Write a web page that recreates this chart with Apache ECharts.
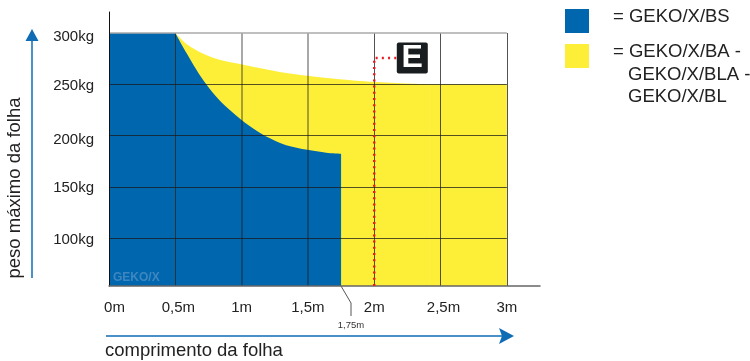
<!DOCTYPE html>
<html>
<head>
<meta charset="utf-8">
<style>html,body{margin:0;padding:0;background:#fff}#chart{width:750px;height:361px}</style>
<script src="https://cdn.jsdelivr.net/npm/echarts@6/dist/echarts.min.js"></script>
</head>
<body>
<div id="chart"></div>
<script>
const yMin = 53.2;
const yMax = 320.5;
const xTicks = [0, 0.5, 1, 1.5, 2, 2.5, 3];
const xTickLabels = ['{a|0m}', '{b|0,5m}', '1m', '1,5m', '2m', '{b|2,5m}', '3m'];
const yTicks = [100, 150, 200, 250, 300];
const yTickLabels = ['100kg', '150kg', '{d|200kg}', '250kg', '{d|300kg}'];
// outlines of the two regions [length in m, weight in kg]
const blueBlock = [[0, 300], [0.5, 300]];
const blueCurve = [[0.5, 300], [0.582, 281], [0.658, 264.5], [0.733, 250], [0.833, 234.5], [0.997, 215.5], [1.11, 205], [1.21, 197.5], [1.336, 190.5], [1.495, 186], [1.638, 183.2], [1.75, 182.2]];
const yellowCurve = [[0.5, 300], [0.582, 289.6], [0.707, 280], [0.833, 274], [0.997, 269.5], [1.135, 265.8], [1.286, 262], [1.495, 258.3], [1.686, 255.6], [1.89, 253.2], [2.2, 251], [2.42, 250]];
const yellowBlock = [[2.42, 250], [3, 250]];
const exampleLine = [[2, yMin], [2, 275.6], [2.17, 275.6]];
const exampleBadge = [[2.287, 275.6]];
const legendNames = ['= GEKO/X/BS', '= GEKO/X/BA -'];
const legendExtra = ['GEKO/X/BLA -', 'GEKO/X/BL'];

const font = '"Liberation Sans", Arial, sans-serif';
const blue = '#0066ae';
const yellow = '#fdef37';
const arrowBlue = '#0f6cb5';
const textColor = '#222';

const gridLines = [];
xTicks.slice(1).forEach(x => {
  // the 1m and 1,5m lines are printed lighter
  const lineStyle = (x === 1 || x === 1.5) ? { color: 'rgba(25,25,25,0.5)', width: 1.5 } : {};
  gridLines.push([{ coord: [x, yMin], lineStyle }, { coord: [x, 300], lineStyle }]);
});
yTicks.slice(0, -1).forEach(y => gridLines.push([{ coord: [0, y] }, { coord: [3, y] }]));
gridLines.push([
  { coord: [0, 300], lineStyle: { color: '#aaa', width: 1.5 } },
  { coord: [3, 300], lineStyle: { color: '#aaa', width: 1.5 } }
]);

const areaSeries = (name, data, color, z, smooth) => ({
  name, type: 'line', data, showSymbol: false, z, smooth,
  lineStyle: { width: 0 }, areaStyle: { color, opacity: 1, origin: 'start' }
});

const chart = echarts.init(document.getElementById('chart'), null, { renderer: 'canvas' });
chart.setOption({
  animation: false,
  backgroundColor: '#fff',
  grid: { left: 109, top: 12, width: 431, height: 274, containLabel: false },
  xAxis: {
    type: 'value', min: 0, max: 3.25, z: 5,
    axisLine: { show: true, onZero: false, lineStyle: { color: '#666', width: 1.5 } },
    axisTick: { show: false },
    splitLine: { show: false },
    axisLabel: {
      customValues: xTicks, margin: 14, color: textColor, fontSize: 15, fontFamily: font,
      showMinLabel: true, showMaxLabel: true,
      formatter: v => xTickLabels[xTicks.indexOf(v)],
      rich: {
        a: { fontSize: 15, fontFamily: font, color: textColor, padding: [0, 0, 0, 11] },
        b: { fontSize: 15, fontFamily: font, color: textColor, padding: [0, 0, 0, 6] }
      }
    }
  },
  yAxis: {
    type: 'value', min: yMin, max: yMax, z: 5,
    axisLine: { show: true, onZero: false, lineStyle: { color: '#111', width: 1 } },
    axisTick: { show: false },
    splitLine: { show: false },
    axisLabel: {
      customValues: yTicks, margin: 15, color: textColor, fontSize: 15, fontFamily: font,
      padding: [3, 0, 0, 0],
      formatter: v => yTickLabels[yTicks.indexOf(v)],
      rich: {
        d: { fontSize: 15, fontFamily: font, color: textColor, padding: [5, 0, 0, 0] }
      }
    }
  },
  series: [
    areaSeries('GEKO/X/BA', yellowCurve, yellow, 1, 0.3),
    areaSeries('GEKO/X/BA fim', yellowBlock, yellow, 1, false),
    areaSeries('GEKO/X/BS', blueCurve, blue, 2, 0.3),
    areaSeries('GEKO/X/BS início', blueBlock, blue, 2, false),
    {
      name: 'grelha', type: 'line', data: [], z: 3, silent: true,
      markLine: {
        silent: true, symbol: 'none', label: { show: false }, animation: false, z: 3,
        lineStyle: { color: 'rgba(25,25,25,0.75)', width: 1, type: 'solid' },
        data: gridLines
      }
    },
    {
      name: 'exemplo', type: 'line', data: exampleLine, showSymbol: false, z: 7, clip: false,
      lineStyle: { color: '#ed1c24', width: 2.5, type: [2, 4.2] }
    },
    {
      name: 'E', type: 'scatter', data: exampleBadge, z: 8,
      symbol: 'path://M2 0H29Q31 0 31 2V29Q31 31 29 31H2Q0 31 0 29V2Q0 0 2 0Z', symbolSize: 31,
      itemStyle: { color: '#1a1d20', opacity: 1 },
      label: { show: true, position: 'inside', formatter: 'E', color: '#fff', fontSize: 32, fontWeight: 'bold', fontFamily: font }
    }
  ],
  graphic: [
    // y arrow
    { type: 'line', shape: { x1: 32, y1: 278, x2: 32, y2: 36 }, style: { stroke: arrowBlue, lineWidth: 1.5 } },
    { type: 'polygon', shape: { points: [[32, 29], [25.5, 41], [38.5, 41]] }, style: { fill: arrowBlue } },
    // x arrow
    { type: 'line', shape: { x1: 106, y1: 336, x2: 505, y2: 336 }, style: { stroke: arrowBlue, lineWidth: 1.5 } },
    { type: 'polygon', shape: { points: [[514, 336], [499, 328], [502, 336], [499, 344]] }, style: { fill: arrowBlue } },
    // axis titles
    { type: 'text', x: 15, y: 188, rotation: Math.PI / 2, style: { text: 'peso máximo da folha', font: '18.5px ' + font, fill: textColor, align: 'center', verticalAlign: 'middle' } },
    { type: 'text', x: 105, y: 351, style: { text: 'comprimento da folha', font: '18.5px ' + font, fill: textColor, verticalAlign: 'middle' } },
    // 1,75m leader
    { type: 'polyline', shape: { points: [[341, 286], [351, 303], [351, 316]] }, style: { stroke: '#555', lineWidth: 1, fill: 'none' } },
    { type: 'text', x: 351, y: 325, style: { text: '1,75m', font: '9.5px ' + font, fill: '#333', align: 'center', verticalAlign: 'middle' } },
    // watermark
    { type: 'text', x: 113, y: 277.5, z: 10, style: { text: 'GEKO/X', font: 'bold 12px ' + font, fill: '#3d86c0', verticalAlign: 'middle' } },
    // legend
    { type: 'rect', shape: { x: 565, y: 9, width: 24, height: 24 }, style: { fill: blue } },
    { type: 'rect', shape: { x: 565, y: 44, width: 24, height: 24 }, style: { fill: yellow } },
    { type: 'text', x: 613, y: 17, style: { text: legendNames[0], font: '18.5px ' + font, fill: textColor, verticalAlign: 'middle' } },
    { type: 'text', x: 613, y: 52, style: { text: legendNames[1], font: '18.5px ' + font, fill: textColor, verticalAlign: 'middle' } },
    { type: 'text', x: 628, y: 75, style: { text: legendExtra[0], font: '18.5px ' + font, fill: textColor, verticalAlign: 'middle' } },
    { type: 'text', x: 628, y: 97, style: { text: legendExtra[1], font: '18.5px ' + font, fill: textColor, verticalAlign: 'middle' } }
  ]
});
</script>
</body>
</html>
